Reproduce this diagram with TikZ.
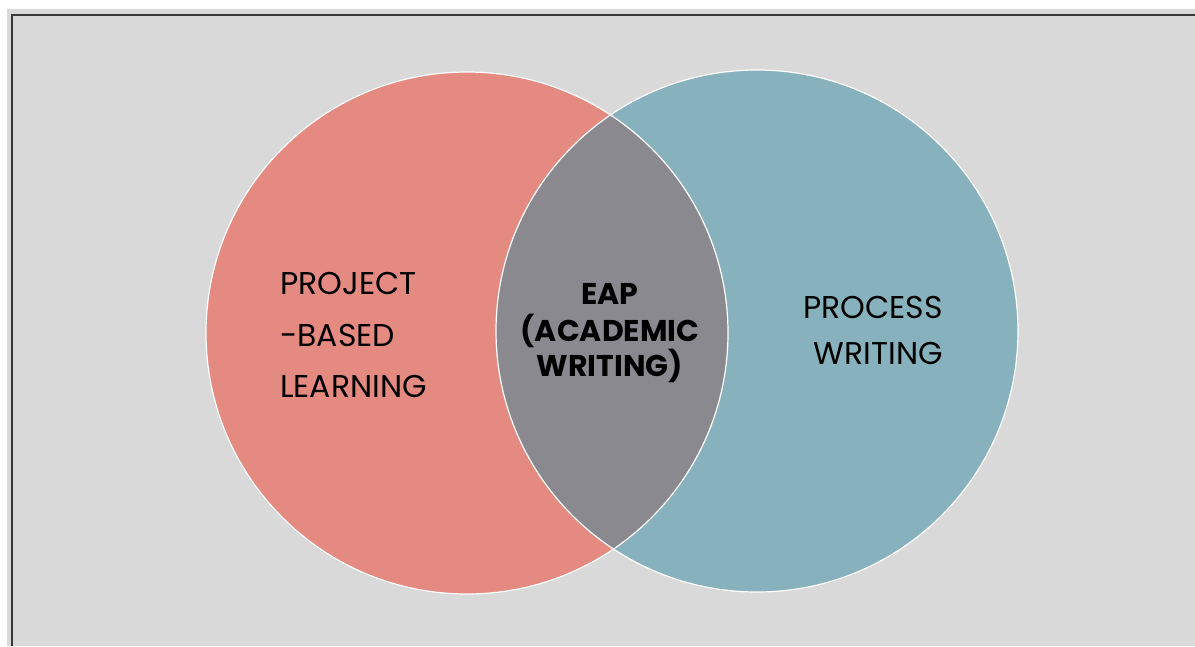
\documentclass[tikz,border=0pt]{standalone}
\usepackage{fontspec}
\setmainfont{Poppins}
\definecolor{bgwhite}{HTML}{FFFFFF}
\definecolor{bggray}{HTML}{D9D9D9}
\definecolor{frameline}{HTML}{3A3A3A}
\definecolor{salmon}{HTML}{E48A80}
\definecolor{teal}{HTML}{87B1BC}
\definecolor{lens}{HTML}{8A898F}
\tikzset{
  lbl/.style={inner sep=0pt, font=\fontsize{31.5}{32}\selectfont, text=black},
  blbl/.style={inner sep=0pt, font=\bfseries\fontsize{30}{31}\selectfont, text=black},
  outline/.style={draw=white, line width=1.2pt}
}
\begin{document}
\begin{tikzpicture}[x=1pt,y=-1pt]
\useasboundingbox (0,0) rectangle (1195,646);
\fill[bgwhite] (0,0) rectangle (1195,646);
\fill[bggray] (7,9) rectangle (1195,646);
\draw[frameline, line width=2pt] (12,646) -- (12,15) -- (1195,15);
% circles
\coordinate (lc) at (467,333);
\coordinate (rc) at (757,331);
\fill[salmon] (lc) circle[radius=261];
\fill[teal] (rc) circle[radius=261];
\begin{scope}
  \clip (lc) circle[radius=261];
  \fill[lens] (rc) circle[radius=261];
\end{scope}
\draw[outline] (lc) circle[radius=261];
\draw[outline] (rc) circle[radius=261];
% texts
\node[lbl, anchor=base west] (p1) at (280,294) {PROJECT};
\node[lbl, anchor=base west] (p2) at (280,346) {-BASED};
\node[lbl, anchor=base west] (p3) at (280,397) {LEARNING};
\node[blbl, anchor=base] (e1) at (610,304) {EAP};
\node[blbl, anchor=base] (e2) at (610,341) {(ACADEMIC};
\node[blbl, anchor=base] (e3) at (610,376) {WRITING)};
\node[lbl, anchor=base east] (w1) at (943,318) {PROCESS};
\node[lbl, anchor=base east] (w2) at (943,364) {WRITING};
\end{tikzpicture}
\end{document}
